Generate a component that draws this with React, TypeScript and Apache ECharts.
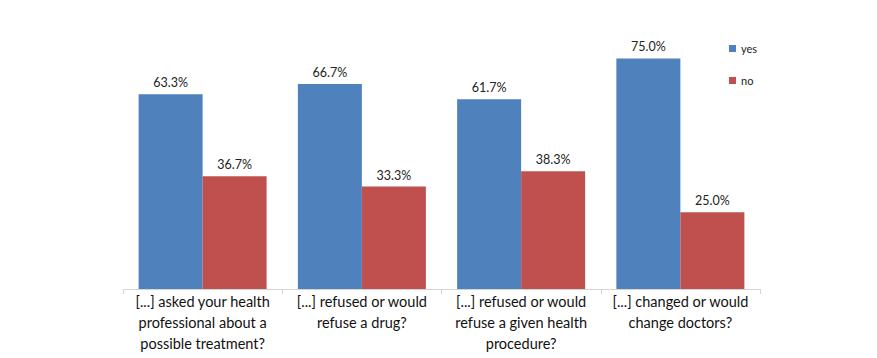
import React, { useEffect, useRef } from "react";
import * as echarts from "echarts";

const categories = [
  "[...] asked your health\nprofessional about a\npossible treatment?",
  "[...] refused or would\nrefuse a drug?",
  "[...] refused or would\nrefuse a given health\nprocedure?",
  "[...] changed or would\nchange doctors?",
];
const yesValues = [63.3, 66.7, 61.7, 75.0];
const noValues = [36.7, 33.3, 38.3, 25.0];

const FONT = "Lato, 'Open Sans', sans-serif";

export default function App() {
  const ref = useRef<HTMLDivElement>(null);
  useEffect(() => {
    if (!ref.current) return;
    const chart = echarts.init(ref.current, null, { renderer: "svg" });
    const label = {
      show: true,
      position: "top" as const,
      distance: 5,
      formatter: (p: any) => p.value.toFixed(1) + "%",
      fontFamily: FONT,
      fontSize: 12.5,
      color: "#222",
    };
    chart.setOption({
      animation: false,
      backgroundColor: "#fff",
      grid: { left: 123, right: 117, top: 43, bottom: 69 },
      legend: {
        orient: "vertical",
        left: 724,
        top: 38,
        itemWidth: 7,
        itemHeight: 7,
        itemGap: 21,
        icon: "rect",
        textStyle: { fontFamily: FONT, fontSize: 11, color: "#222" },
        data: ["yes", "no"],
      },
      xAxis: {
        type: "category",
        data: categories,
        axisLine: { lineStyle: { color: "#d4d4d4", width: 1 } },
        axisTick: { show: true, length: 5, lineStyle: { color: "#d4d4d4" } },
        axisLabel: {
          interval: 0,
          fontFamily: FONT,
          fontSize: 14.5,
          lineHeight: 21,
          color: "#111",
          margin: 2,
        },
      },
      yAxis: {
        type: "value",
        min: 0,
        max: 80,
        show: false,
        splitLine: { show: false },
      },
      series: [
        {
          name: "yes",
          type: "bar",
          data: yesValues,
          barWidth: 64,
          barGap: "0%",
          itemStyle: { color: "#4f81bd" },
          label,
        },
        {
          name: "no",
          type: "bar",
          data: noValues,
          barWidth: 64,
          itemStyle: { color: "#c0504d" },
          label,
        },
      ],
    });
    return () => chart.dispose();
  }, []);
  return (
    <div
      ref={ref}
      style={{ position: "fixed", left: 0, top: 0, width: 877, height: 358 }}
    />
  );
}
